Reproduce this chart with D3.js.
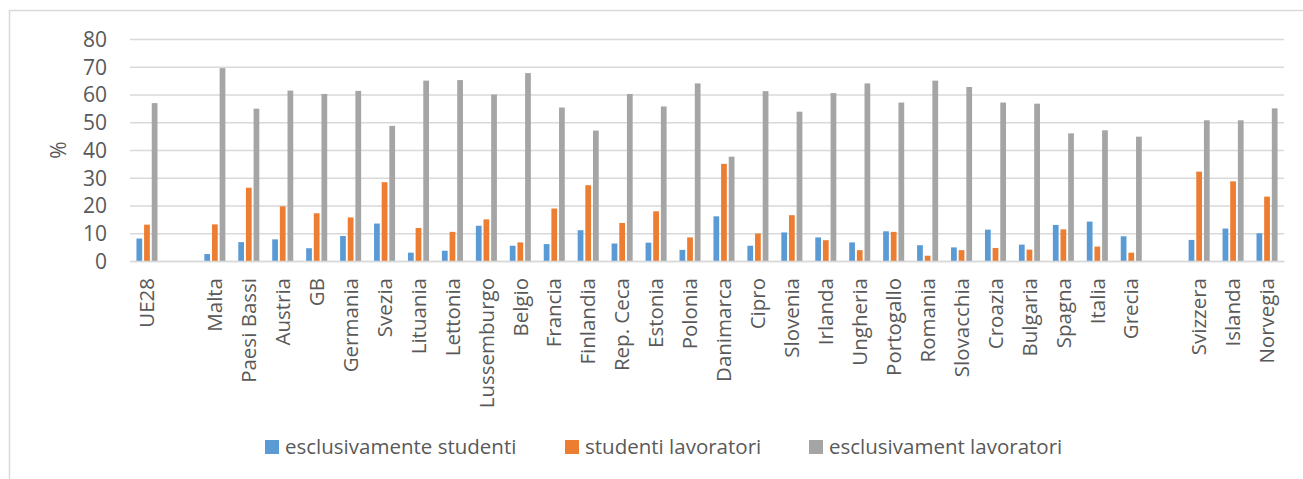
<!DOCTYPE html>
<html>
<head>
<meta charset="utf-8">
<script src="https://cdn.jsdelivr.net/npm/d3@7"></script>
<style>
  body {margin: 0; background: #fff;}
  svg {display: block;}
  .tick_label {font-family: "Open Sans", sans-serif; fill: #595959;}
</style>
</head>
<body>
<div id="chart"></div>
<script>
const countries = ["UE28", "Malta", "Paesi Bassi", "Austria", "GB", "Germania", "Svezia", "Lituania", "Lettonia",
  "Lussemburgo", "Belgio", "Francia", "Finlandia", "Rep. Ceca", "Estonia", "Polonia", "Danimarca", "Cipro",
  "Slovenia", "Irlanda", "Ungheria", "Portogallo", "Romania", "Slovacchia", "Croazia", "Bulgaria", "Spagna",
  "Italia", "Grecia", "Svizzera", "Islanda", "Norvegia"]

// empty slots after UE28 and after Grecia
const slots = ["UE28", "_gap1", ...countries.slice(1, 29), "_gap2", ...countries.slice(29)]

const esclusivamenteStudenti = [8.1, 2.5, 6.8, 7.8, 4.6, 9.0, 13.5, 3.0, 3.7, 12.7, 5.5, 6.1, 11.1, 6.3, 6.6, 4.0,
  16.1, 5.5, 10.3, 8.5, 6.7, 10.7, 5.7, 4.9, 11.3, 5.9, 13.0, 14.2, 8.9, 7.6, 11.7, 10.0]
const studentiLavoratori = [13.1, 13.2, 26.4, 19.7, 17.2, 15.7, 28.4, 11.9, 10.5, 15.0, 6.7, 18.9, 27.3, 13.7, 17.9, 8.5,
  35.0, 9.9, 16.5, 7.5, 3.9, 10.5, 1.9, 3.9, 4.7, 4.1, 11.4, 5.2, 3.0, 32.2, 28.7, 23.2]
const esclusivamentLavoratori = [56.9, 69.5, 54.9, 61.4, 60.2, 61.3, 48.7, 65.0, 65.2, 60.0, 67.7, 55.3, 47.0, 60.2, 55.7, 64.0,
  37.6, 61.2, 53.8, 60.5, 64.0, 57.1, 65.0, 62.7, 57.1, 56.7, 46.0, 47.1, 44.8, 50.7, 50.7, 55.0]

const seriesNames = ["esclusivamente studenti", "studenti lavoratori", "esclusivament lavoratori"]
const seriesColors = ["#5B9BD5", "#ED7D31", "#A5A5A5"]
const yTicks = [0, 10, 20, 30, 40, 50, 60, 70, 80]

const width = 1303, height = 479

const svg = d3.select("#chart").append("svg").attr("width", width).attr("height", height)

// chart frame, only top and left edge are inside the picture
svg.append("rect").attr("x", 9.5).attr("y", 10.5).attr("width", 1400).attr("height", 600)
  .attr("fill", "none").attr("stroke", "#D9D9D9").attr("stroke-width", 1.5)

const x0 = d3.scaleBand().domain(slots).range([130, 1284]).paddingInner(0.38).paddingOuter(0.19),
  x1 = d3.scaleBand().domain(seriesNames).range([0, x0.bandwidth()]).paddingInner(0.25),
  y = d3.scaleLinear().domain([0, 80]).range([261, 39])

const seriesValues = [esclusivamenteStudenti, studentiLavoratori, esclusivamentLavoratori]
const rows = countries.map((c, i) => ({country: c, values: seriesNames.map((s, k) => ({series: s, color: seriesColors[k], value: seriesValues[k][i]}))}))

drawGrid()
drawBars()
drawXAxis()
drawLegend()

function drawGrid() {
  const yAxis = d3.axisLeft(y).tickValues(yTicks).tickSize(-(1284 - 130)).tickPadding(23).tickFormat(d3.format("d"))
  const g = svg.append("g").attr("transform", "translate(130,0)").call(yAxis)
  g.select(".domain").remove()
  g.selectAll(".tick line").attr("stroke", "#D9D9D9").attr("stroke-width", 1.5)
  g.selectAll(".tick text").attr("class", "tick_label").style("font-size", "21px").attr("dy", "0.35em")

  svg.append("text").attr("class", "tick_label").attr("transform", "translate(66,150) rotate(-90)")
    .attr("text-anchor", "middle").style("font-size", "21px").text("%")
}

function drawBars() {
  svg.append("g").selectAll("g.group").data(rows).enter().append("g").attr("class", "group")
    .attr("transform", d => `translate(${x0(d.country)},0)`)
    .selectAll("rect").data(d => d.values).enter().append("rect")
    .attr("x", d => x1(d.series))
    .attr("width", x1.bandwidth())
    .attr("y", d => y(d.value))
    .attr("height", d => y(0) - y(d.value))
    .attr("fill", d => d.color)
}

function drawXAxis() {
  const xAxis = d3.axisBottom(x0).tickSize(0).tickPadding(0).tickFormat(d => d.startsWith("_") ? "" : d)
  const g = svg.append("g").attr("transform", `translate(0,${y(0)})`).call(xAxis)
  g.select(".domain").attr("stroke", "#D9D9D9").attr("stroke-width", 1.5)
  g.selectAll(".tick text").attr("class", "tick_label").style("font-size", "20.5px")
    .attr("text-anchor", "end").attr("transform", "rotate(-90)")
    .attr("x", -17).attr("y", 0).attr("dy", "0.35em")
}

function drawLegend() {
  const legendX = [265, 565, 809]
  const g = svg.append("g").selectAll("g.legend_item").data(seriesNames).enter().append("g").attr("class", "legend_item")
    .attr("transform", (d, i) => `translate(${legendX[i]},440)`)
  g.append("rect").attr("width", 14).attr("height", 14).attr("fill", (d, i) => seriesColors[i])
  g.append("text").attr("class", "tick_label").attr("x", 20).attr("y", 13.5)
    .style("font-size", "20.5px").text(d => d)
}
</script>
</body>
</html>
